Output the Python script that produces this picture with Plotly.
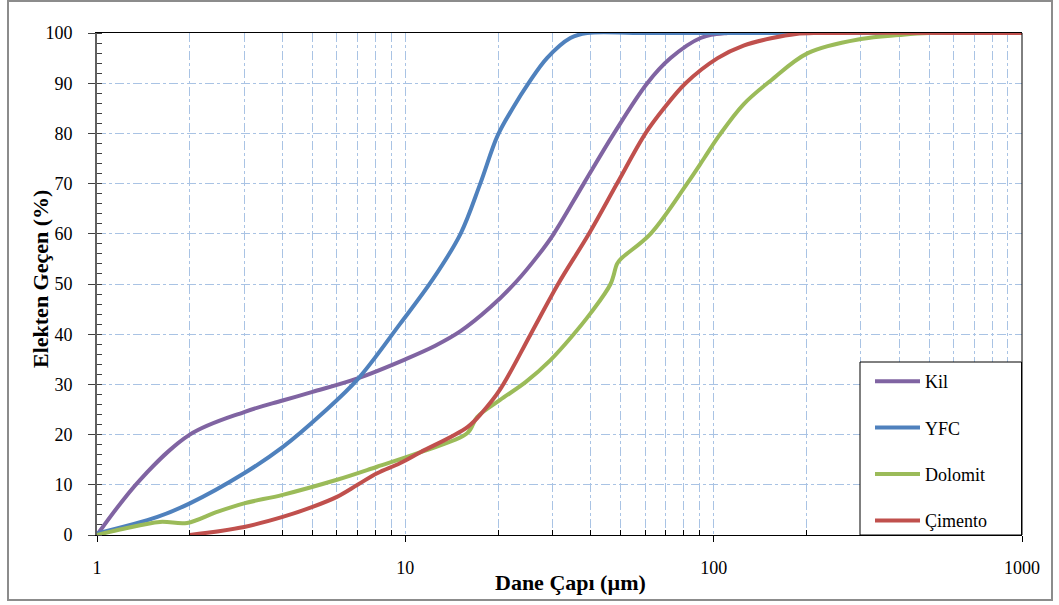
import plotly.graph_objects as go

# ---- data ----
kil_d = [1, 1.38, 2, 3, 4, 5, 7, 10, 12.5, 15.1, 18.9, 23, 26.8, 30.3, 37.9, 47.5, 60.9, 72.5, 90.7, 111, 1000]
kil_v = [0, 11, 20, 24.5, 26.8, 28.5, 31.2, 35, 37.7, 40.6, 45.4, 50.6, 55.5, 60, 70, 80, 90, 95, 99, 100, 100]

yfc_d = [1, 1.57, 2, 3, 4, 5.4, 7, 9.6, 12.3, 15.1, 17.5, 19.9, 22.3, 25.1, 28.8, 34.3, 38.9, 60, 1000]
yfc_v = [0.3, 3.6, 6.3, 12.3, 17.5, 24.3, 31, 42, 51, 60, 70, 79.5, 85, 90, 95, 99, 100, 100, 100]

dol_d = [1, 1.21, 1.6, 1.96, 2.45, 3, 4, 6, 8.1, 11.2, 15.9, 17.1, 20.3, 24.6, 29.5, 34.5, 39.9, 46.3,
         48.6, 50, 62.4, 82, 93, 104, 125, 153, 202, 300, 400, 500, 1000]
dol_v = [0, 1.2, 2.6, 2.4, 4.6, 6.3, 8, 11, 13.6, 16.5, 20.3, 23.5, 26.9, 30.5, 34.8, 39.4, 44.2, 50,
         54, 55, 60, 70, 75, 79.5, 85.8, 90.5, 96, 98.8, 99.6, 100, 100]

cim_d = [2, 3, 4, 5, 6, 7, 8.1, 9.6, 11.2, 15.9, 17.8, 20.3, 25.5, 31.3, 39.4, 48.6, 60.1, 69, 81.1,
         103, 125, 155, 185, 220, 1000]
cim_v = [0, 1.6, 3.6, 5.6, 7.6, 10, 12.3, 14.3, 16.5, 21.5, 24.5, 29, 40, 50, 60, 70, 80, 85, 90,
         95, 97.5, 99, 99.8, 100, 100]

series = [
    ("Kil", kil_d, kil_v, "#8064a2"),
    ("YFC", yfc_d, yfc_v, "#4f81bd"),
    ("Dolomit", dol_d, dol_v, "#9bbb59"),
    ("Çimento", cim_d, cim_v, "#c0504d"),
]

x_major = [1, 10, 100, 1000]
x_minor = [m * 10 ** e for e in range(0, 3) for m in range(2, 10)]
y_ticks = list(range(0, 101, 10))

SERIF = "Liberation Serif"
GRID = "#a9c3e4"

fig = go.Figure()
for i, (name, d, v, c) in enumerate(series):
    fig.add_trace(go.Scatter(
        x=d, y=v, name=name, mode="lines",
        line=dict(color=c, width=4, shape="spline", smoothing=1.0),
        cliponaxis=False, legendgroup=f"g{i}",
    ))

W, H = 1059, 605
L, R, T, B = 97, 1022, 33, 535
px = lambda x: (x - L) / (R - L)
py = lambda y: (B - y) / (B - T)

fig.update_layout(
    width=W, height=H,
    margin=dict(l=L, r=W - R, t=T, b=H - B),
    paper_bgcolor="white", plot_bgcolor="white",
    font=dict(family=SERIF, size=17, color="black"),
    showlegend=True,
    legend=dict(
        x=px(870), y=py(363), xanchor="left", yanchor="top",
        bgcolor="rgba(0,0,0,0)", borderwidth=0,
        font=dict(family=SERIF, size=18, color="black"),
        traceorder="grouped", tracegroupgap=20, itemwidth=45,
    ),
    xaxis=dict(
        type="log", range=[0, 3],
        tickvals=x_major, ticktext=[str(v) for v in x_major],
        ticks="outside", ticklen=6, tickcolor="black", tickwidth=1,
        ticklabelstandoff=10,
        tickfont=dict(family=SERIF, size=18, color="black"),
        showline=True, linecolor="black", linewidth=1, mirror=True,
        showgrid=True, gridcolor=GRID, griddash="dashdot", gridwidth=1,
        minor=dict(tickvals=x_minor, ticks="inside", ticklen=5, tickcolor="black",
                   showgrid=True, gridcolor=GRID, griddash="dashdot", gridwidth=1),
        zeroline=False,
    ),
    yaxis=dict(
        range=[0, 100], tickvals=y_ticks,
        ticks="outside", ticklen=7, tickcolor="#404040", tickwidth=1,
        ticklabelstandoff=12,
        tickfont=dict(family=SERIF, size=18, color="black"),
        showline=True, linecolor="#606060", linewidth=2,
        showgrid=True, gridcolor=GRID, griddash="dashdot", gridwidth=1,
        minor=dict(dtick=2, ticks="inside", ticklen=5, tickcolor="#404040", showgrid=False),
        zeroline=False,
    ),
    shapes=[
        dict(type="line", xref="paper", yref="paper", x0=1, x1=1, y0=0, y1=1,
             line=dict(color="black", width=1)),
        dict(type="rect", xref="paper", yref="paper",
             x0=px(8), x1=px(1052), y0=py(600), y1=py(1),
             line=dict(color="#8c8c8c", width=2), layer="below"),
        dict(type="rect", xref="paper", yref="paper",
             x0=px(860), x1=px(1021.5), y0=py(535), y1=py(362),
             fillcolor="white", line=dict(color="black", width=1), layer="above"),
    ],
    annotations=[
        dict(text="<b>Elekten Geçen (%)</b>", textangle=-90, showarrow=False,
             xref="paper", yref="paper", x=px(40), y=py(279),
             xanchor="center", yanchor="middle",
             font=dict(family=SERIF, size=22, color="black")),
        dict(text="<b>Dane Çapı (µm)</b>", showarrow=False,
             xref="paper", yref="paper", x=px(570), y=py(582),
             xanchor="center", yanchor="middle",
             font=dict(family=SERIF, size=22, color="black")),
    ],
)

fig.write_html("out.html", config={"displayModeBar": False},
               post_script="document.body.style.margin='0';document.body.style.overflow='hidden';")
